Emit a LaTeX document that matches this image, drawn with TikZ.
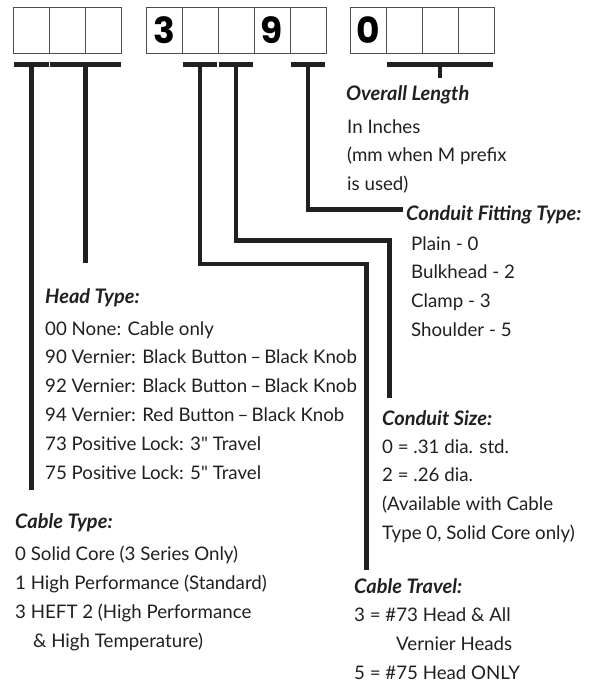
\documentclass[tikz,border=0pt]{standalone}
\usepackage{fontspec}
\setmainfont{Lato}
\newfontfamily\digitfont{Poppins}
\usetikzlibrary{positioning}

\definecolor{ink}{HTML}{231F20}
\definecolor{boxline}{HTML}{4D4D4F}

\begin{document}
\begin{tikzpicture}[x=1pt, y=-1pt,
  cell/.style={draw=boxline, line width=0.9pt, minimum width=36pt, minimum height=46pt,
    inner sep=0pt, outer sep=0pt, text=black, font=\digitfont\bfseries\fontsize{36}{36}\selectfont},
  bar/.style={ink, line width=5pt},
  lead/.style={ink, line width=4.6pt},
  heading/.style={anchor=base west, inner sep=0pt, text=ink, font=\bfseries\itshape\fontsize{20}{22}\selectfont},
  body/.style={anchor=base west, inner sep=0pt, align=left, text=ink, font=\fontsize{18.7}{28.9}\selectfont}]

\useasboundingbox[fill=white] (0,0) rectangle (603,691);

% Boxes
\node[cell] (a1) at (31.5,30.3) {};
\node[cell, right=0pt of a1] (a2) {};
\node[cell, right=0pt of a2] (a3) {};

\node[cell] (b1) at (164,30.3) {3};
\node[cell, right=0pt of b1] (b2) {};
\node[cell, right=0pt of b2] (b3) {};
\node[cell, right=0pt of b3] (b4) {9};
\node[cell, right=0pt of b4] (b5) {};

\node[cell] (c1) at (368,30.3) {0};
\node[cell, right=0pt of c1] (c2) {};
\node[cell, right=0pt of c2] (c3) {};
\node[cell, right=0pt of c3] (c4) {};

% Bars
\draw[bar] ([xshift=0.8pt,yshift=-11pt]a1.south west) -- ([xshift=-0.8pt,yshift=-11pt]a1.south east);
\draw[bar] ([xshift=0.8pt,yshift=-11pt]a2.south west) -- ([xshift=-0.8pt,yshift=-11pt]a3.south east);
\draw[bar] ([xshift=0.8pt,yshift=-11pt]b2.south west) -- ([xshift=-0.8pt,yshift=-11pt]b2.south east);
\draw[bar] ([xshift=0.8pt,yshift=-11pt]b3.south west) -- ([xshift=-0.8pt,yshift=-11pt]b3.south east);
\draw[bar] ([xshift=0.8pt,yshift=-11pt]b5.south west) -- ([xshift=-0.8pt,yshift=-11pt]b5.south east);
\draw[bar] ([xshift=0.8pt,yshift=-11pt]c2.south west) -- ([xshift=-0.8pt,yshift=-11pt]c4.south east);

\coordinate (ta1) at ([yshift=-11pt]a1.south);
\coordinate (ta23) at ([yshift=-11pt]a2.south east);
\coordinate (tb2) at ([yshift=-11pt]b2.south);
\coordinate (tb3) at ([yshift=-11pt]b3.south);
\coordinate (tb5) at ([yshift=-11pt]b5.south);
\coordinate (tc) at ([yshift=-11pt]c3.south);

% Leads
\coordinate (cabletype) at (ta1 |- 0,490);
\coordinate (headtype) at (ta23 |- 0,263);
\coordinate (travel) at (366.5,570);
\coordinate (csize) at (389.5,398);
\coordinate (fitting) at (403,209.5);
\coordinate (length) at (tc |- 0,78);

\draw[lead] (ta1) -- (cabletype);
\draw[lead] (ta23) -- (headtype);
\draw[lead] (tb2) |- (travel |- 0,264) -- (travel);
\draw[lead] (tb3) |- (csize |- 0,240.5) -- (csize);
\draw[lead] (tb5) |- (fitting);
\draw[lead] (tc) -- (length);

% Labels (body nodes sit on their last baseline)
\node[heading] (lenhd) at (346,100) {Overall Length};
\node[body] (lentx) at (347,190.8) {In Inches\\(mm when M prefix\\is used)};

\node[heading] (fithd) at (406,220) {Conduit Fitting Type:};
\node[body] (fittx) at (411,336.7) {Plain - 0\\Bulkhead - 2\\Clamp - 3\\Shoulder - 5};

\node[heading] (headhd) at (45,303) {Head Type:};
\node[body] (headtx) at (45,479.5) {00 None: Cable only\\
  90 Vernier: Black Button\,--\,Black Knob\\
  92 Vernier: Black Button\,--\,Black Knob\\
  94 Vernier: Red Button\,--\,Black Knob\\
  73 Positive Lock: 3\textquotedbl{} Travel\\
  75 Positive Lock: 5\textquotedbl{} Travel};

\node[heading] (sizehd) at (382,425) {Conduit Size:};
\node[body] (sizetx) at (382,539.7) {0 = .31 dia. std.\\2 = .26 dia.\\(Available with Cable\\Type 0, Solid Core only)};

\node[heading] (typehd) at (15,528) {Cable Type:};
\node[body] (typetx) at (15,647.4) {0 Solid Core (3 Series Only)\\
  1 High Performance (Standard)\\
  3 HEFT 2 (High Performance\\
  \hspace*{18pt}\& High Temperature)};

\node[heading] (travhd) at (354,593) {Cable Travel:};
\node[body] (travtx) at (354,679.5) {3 = \#73 Head \& All\\\hspace*{42pt}Vernier Heads\\5 = \#75 Head ONLY};

\end{tikzpicture}
\end{document}
